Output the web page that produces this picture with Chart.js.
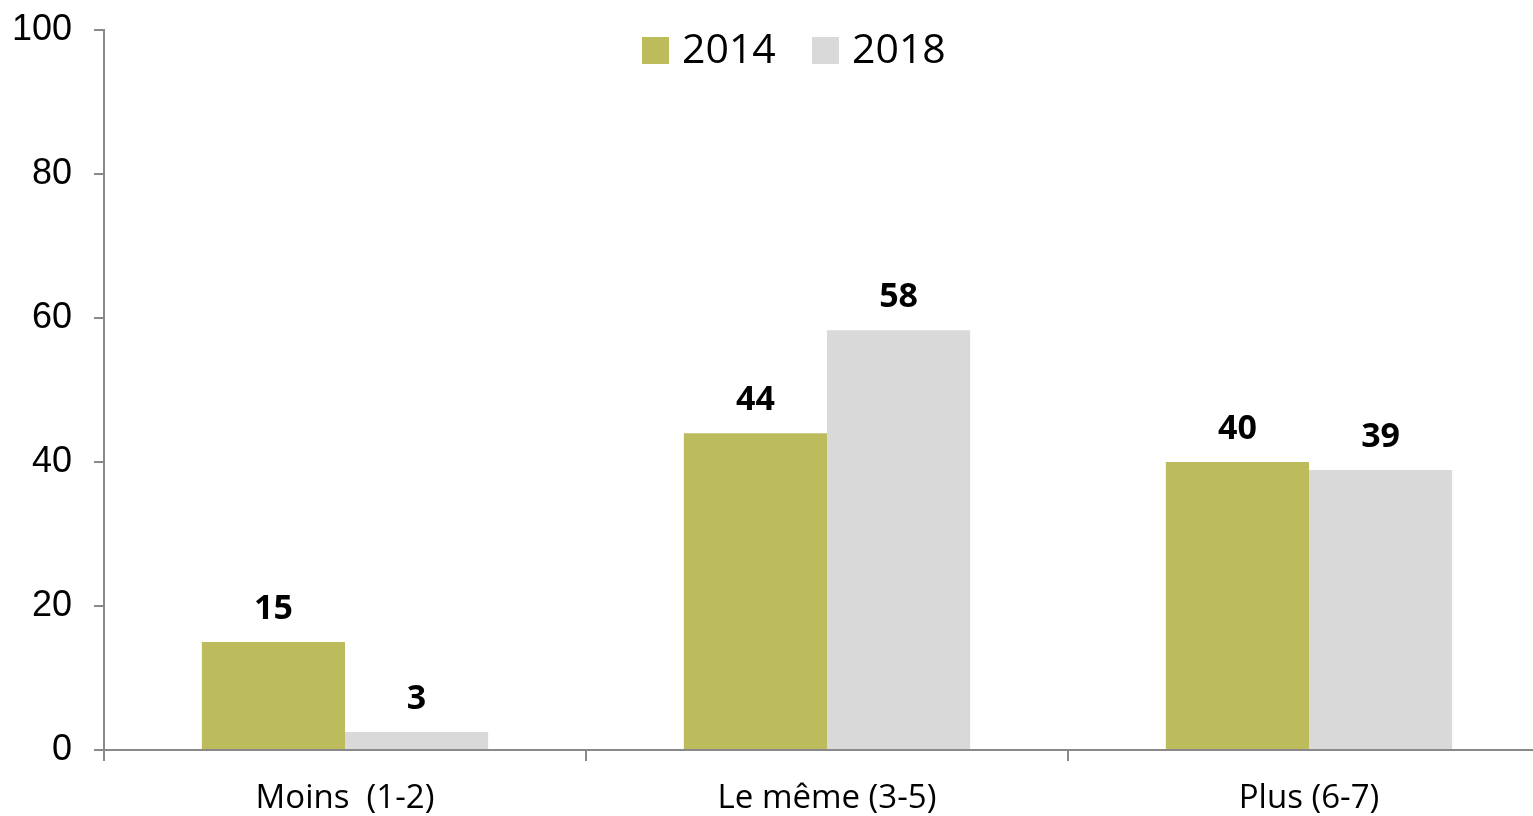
<!DOCTYPE html>
<html>
<head>
<meta charset="utf-8">
<script src="https://cdn.jsdelivr.net/npm/chart.js@4.4.1/dist/chart.umd.min.js"></script>
<style>
  html, body { margin: 0; padding: 0; background: #fff; overflow: hidden; }
  #wrap { width: 1550px; height: 816px; }
</style>
</head>
<body>
<div id="wrap"><canvas id="myChart" width="1550" height="816"></canvas></div>
<script>
'use strict';
const categories = ['Moins  (1-2)', 'Le même (3-5)', 'Plus (6-7)'];
const seriesNames = ['2014', '2018'];
const values2014 = [15, 44, 40];
const values2018 = [2.5, 58.3, 38.9];
const yTicks = [0, 20, 40, 60, 80, 100];

const colors = ['#bdbc5c', '#d9d9d9'];

// numbers above the bars
const barLabels = {
  id: 'barLabels',
  afterDatasetsDraw(chart) {
    const ctx = chart.ctx;
    ctx.save();
    ctx.font = 'bold 34px "Open Sans"';
    ctx.fillStyle = '#000';
    ctx.textAlign = 'center';
    ctx.textBaseline = 'alphabetic';
    chart.data.datasets.forEach((ds, i) => {
      chart.getDatasetMeta(i).data.forEach((bar, j) => {
        ctx.fillText(Math.round(ds.data[j]), bar.x, bar.y - 23);
      });
    });
    ctx.restore();
  }
};

// legend drawn inside the plot, top centre
const topLegend = {
  id: 'topLegend',
  afterDraw(chart) {
    const ctx = chart.ctx;
    ctx.save();
    ctx.font = '41px "Open Sans"';
    ctx.textBaseline = 'middle';
    ctx.textAlign = 'left';
    let x = 642;
    const y = 50;
    chart.data.datasets.forEach((ds) => {
      ctx.fillStyle = ds.backgroundColor;
      ctx.fillRect(x, y - 13, 27, 27);
      ctx.fillStyle = '#000';
      ctx.fillText(ds.label, x + 40, y + 1);
      x += 170;
    });
    ctx.restore();
  }
};

let ctx = document.getElementById('myChart').getContext('2d');
let chart = new Chart(ctx, {
  type: 'bar',
  data: {
    labels: categories,
    datasets: [{
      label: seriesNames[0],
      backgroundColor: colors[0],
      data: values2014,
    }, {
      label: seriesNames[1],
      backgroundColor: colors[1],
      data: values2018,
    }]
  },
  options: {
    responsive: false,
    animation: false,
    layout: { padding: { top: 30, right: 0, left: 0, bottom: 0 } },
    datasets: {
      bar: { categoryPercentage: 0.594, barPercentage: 1.0 }
    },
    plugins: {
      legend: { display: false },
      tooltip: { enabled: false }
    },
    scales: {
      x: {
        afterFit(scale) { scale.height = 66; scale.paddingLeft = 0; scale.paddingRight = 0; },
        grid: {
          offset: true,
          drawOnChartArea: false,
          drawTicks: true,
          tickLength: 11,
          color: '#898989',
          lineWidth: 2
        },
        border: { color: '#898989', width: 2 },
        ticks: {
          color: '#000',
          font: { family: 'Open Sans', size: 33 },
          padding: 18,
          maxRotation: 0
        }
      },
      y: {
        min: 0,
        max: 100,
        afterFit(scale) { scale.width = 104; scale.paddingTop = 0; scale.paddingBottom = 0; },
        afterBuildTicks(scale) { scale.ticks = yTicks.map(v => ({ value: v })); },
        grid: {
          drawOnChartArea: false,
          drawTicks: true,
          tickLength: 10,
          color: '#898989',
          lineWidth: 2
        },
        border: { color: '#898989', width: 2 },
        ticks: {
          color: '#000',
          font: { family: 'Liberation Sans', size: 36 },
          padding: 22
        }
      }
    }
  },
  plugins: [barLabels, topLegend]
});
</script>
</body>
</html>
